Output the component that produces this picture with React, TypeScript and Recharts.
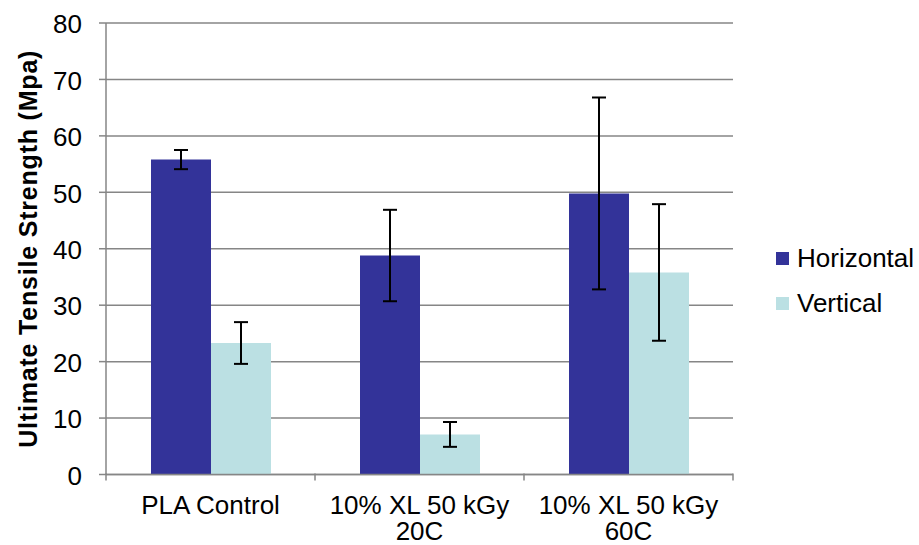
import { BarChart, Bar, XAxis, YAxis, CartesianGrid, ErrorBar, Legend } from 'recharts';

const categories = ['PLA Control', '10% XL 50 kGy 20C', '10% XL 50 kGy 60C'];
const horizontal = [55.8, 38.8, 49.8];
const horizontalErr = [1.7, 8.1, 17.0];
const vertical = [23.3, 7.1, 35.8];
const verticalErr = [3.7, 2.2, 12.1];
const yTicks = [0, 10, 20, 30, 40, 50, 60, 70, 80];

const data = categories.map((name, i) => ({
  name,
  Horizontal: horizontal[i],
  hErr: horizontalErr[i],
  Vertical: vertical[i],
  vErr: verticalErr[i],
}));

const FONT = '"Liberation Sans", Arial, sans-serif';
const GRID = '#868686';
const DARK = '#333399';
const LIGHT = '#BBE0E3';

const W = 919;
const H = 545;
const PLOT_LEFT = 106;
const PLOT_RIGHT = 733;
const HALF_BAND = (PLOT_RIGHT - PLOT_LEFT) / categories.length / 2;

// excel wraps the long labels onto two lines
function wrap(label: string): string[] {
  if (label.length <= 13) return [label];
  const cut = label.lastIndexOf(' ');
  return [label.slice(0, cut), label.slice(cut + 1)];
}

function CategoryTick(props: any) {
  const { x, y, payload, index } = props;
  const lines = wrap(payload.value);
  const axisY = y - 9;
  return (
    <g>
      <line x1={x - HALF_BAND} y1={axisY} x2={x - HALF_BAND} y2={axisY + 7} stroke={GRID} strokeWidth={1.5} />
      {index === categories.length - 1 && (
        <line x1={x + HALF_BAND} y1={axisY} x2={x + HALF_BAND} y2={axisY + 7} stroke={GRID} strokeWidth={1.5} />
      )}
      {lines.map((l, i) => (
        <text
          key={i}
          x={x}
          y={axisY + 40 + i * 26}
          textAnchor="middle"
          fontFamily={FONT}
          fontSize={26}
          fill="#000"
        >
          {l}
        </text>
      ))}
    </g>
  );
}

function YTitle(props: any) {
  const { viewBox } = props;
  const cy = viewBox.y + viewBox.height / 2;
  const bx = 37;
  return (
    <text
      x={bx}
      y={cy}
      transform={`rotate(-90, ${bx}, ${cy})`}
      textAnchor="middle"
      fontFamily={FONT}
      fontSize={25}
      fontWeight="bold"
      letterSpacing={0.8}
      fill="#000"
    >
      Ultimate Tensile Strength (Mpa)
    </text>
  );
}

function LegendBox() {
  const items = [
    { label: 'Horizontal', color: DARK },
    { label: 'Vertical', color: LIGHT },
  ];
  return (
    <div style={{ fontFamily: FONT, fontSize: 26, color: '#000', textAlign: 'left' }}>
      {items.map((it) => (
        <div key={it.label} style={{ display: 'flex', alignItems: 'center', height: 45 }}>
          <span style={{ width: 13, height: 13, background: it.color, marginRight: 8, display: 'inline-block' }} />
          <span>{it.label}</span>
        </div>
      ))}
    </div>
  );
}

export default function App() {
  return (
    <div style={{ position: 'absolute', left: 0, top: 0, width: W, height: H, background: '#fff' }}>
      <BarChart
        width={W}
        height={H}
        data={data}
        margin={{ top: 23, right: W - PLOT_RIGHT, bottom: 0, left: 0 }}
        barGap={0}
        barSize={60}
      >
        <CartesianGrid vertical={false} stroke={GRID} strokeWidth={1.5} />
        <XAxis
          dataKey="name"
          height={70.5}
          interval={0}
          axisLine={{ stroke: GRID, strokeWidth: 1.5 }}
          tickLine={false}
          tick={<CategoryTick />}
        />
        <YAxis
          width={PLOT_LEFT}
          domain={[0, 80]}
          ticks={yTicks}
          interval={0}
          axisLine={{ stroke: GRID, strokeWidth: 1.5 }}
          tickLine={{ stroke: GRID, strokeWidth: 1.5 }}
          tickSize={7}
          tickMargin={17}
          tick={{ fontFamily: FONT, fontSize: 26, fill: '#000', dy: 1 }}
          label={<YTitle />}
        />
        <Legend
          layout="vertical"
          align="center"
          verticalAlign="middle"
          content={<LegendBox />}
          wrapperStyle={{ position: 'absolute', left: 776, top: 236, width: 140 }}
        />
        <Bar dataKey="Horizontal" fill={DARK} isAnimationActive={false}>
          <ErrorBar dataKey="hErr" width={7} stroke="#000" strokeWidth={2} direction="y" />
        </Bar>
        <Bar dataKey="Vertical" fill={LIGHT} isAnimationActive={false}>
          <ErrorBar dataKey="vErr" width={7} stroke="#000" strokeWidth={2} direction="y" />
        </Bar>
      </BarChart>
    </div>
  );
}
